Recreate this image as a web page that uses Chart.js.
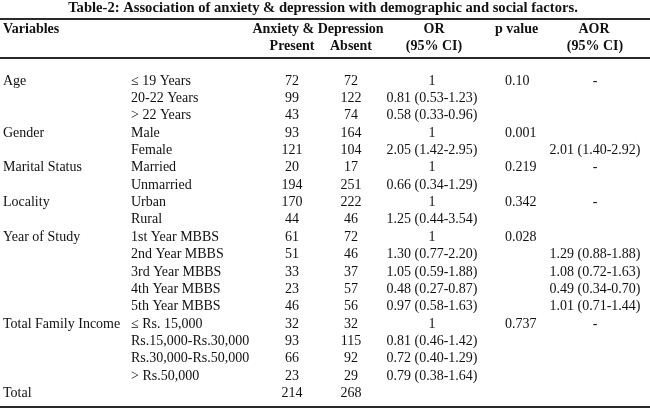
<!DOCTYPE html>
<html>
<head>
<meta charset="utf-8">
<script src="https://cdn.jsdelivr.net/npm/chart.js@4.4.1/dist/chart.umd.min.js"></script>
<style>
  html, body { margin: 0; padding: 0; background: #fff; }
  #wrap { width: 650px; height: 415px; }
</style>
</head>
<body>
<div id="wrap"><canvas id="tableChart"></canvas></div>
<script>
// table values, one array per column
var variables = ["Age", "", "", "Gender", "", "Marital Status", "", "Locality", "", "Year of Study", "", "", "", "", "Total Family Income", "", "", "", "Total"];
var categories = ["≤ 19 Years", "20-22 Years", "> 22 Years", "Male", "Female", "Married", "Unmarried", "Urban", "Rural",
  "1st Year MBBS", "2nd Year MBBS", "3rd Year MBBS", "4th Year MBBS", "5th Year MBBS",
  "≤ Rs. 15,000", "Rs.15,000-Rs.30,000", "Rs.30,000-Rs.50,000", "> Rs.50,000", ""];
var present = [72, 99, 43, 93, 121, 20, 194, 170, 44, 61, 51, 33, 23, 46, 32, 93, 66, 23, 214];
var absent = [72, 122, 74, 164, 104, 17, 251, 222, 46, 72, 46, 37, 57, 56, 32, 115, 92, 29, 268];
var oddsRatio = ["1", "0.81 (0.53-1.23)", "0.58 (0.33-0.96)", "1", "2.05 (1.42-2.95)", "1", "0.66 (0.34-1.29)", "1", "1.25 (0.44-3.54)",
  "1", "1.30 (0.77-2.20)", "1.05 (0.59-1.88)", "0.48 (0.27-0.87)", "0.97 (0.58-1.63)",
  "1", "0.81 (0.46-1.42)", "0.72 (0.40-1.29)", "0.79 (0.38-1.64)", ""];
var pValues = ["0.10", "", "", "0.001", "", "0.219", "", "0.342", "", "0.028", "", "", "", "", "0.737", "", "", "", ""];
var adjOddsRatio = ["-", "", "", "", "2.01 (1.40-2.92)", "-", "", "-", "", "", "1.29 (0.88-1.88)", "1.08 (0.72-1.63)", "0.49 (0.34-0.70)", "1.01 (0.71-1.44)", "-", "", "", "", ""];

var title = "Table-2: Association of anxiety & depression with demographic and social factors.";
var headTop = ["Variables", "Anxiety & Depression", "OR", "p value", "AOR"];
var headBottom = ["Present", "Absent", "(95% CI)", "(95% CI)"];

// layout (x in px, y in row units)
var BODY = "14px 'Liberation Serif', 'Times New Roman', serif";
var BOLD = "bold 14px 'Liberation Serif', 'Times New Roman', serif";
var TITLE = "bold 14.6px 'Liberation Serif', 'Times New Roman', serif";
var columns = [
  { texts: variables, x: 3, align: "left" },
  { texts: categories, x: 131, align: "left" },
  { texts: present, x: 292, align: "center" },
  { texts: absent, x: 351, align: "center" },
  { texts: oddsRatio, x: 432, align: "center" },
  { texts: pValues, x: 505, align: "left" },
  { texts: adjOddsRatio, x: 595, align: "center" }
];
var headTopX = [3, 318, 434, 495, 594];
var headTopAlign = ["left", "center", "center", "left", "center"];
var headBottomX = [292, 351, 434, 595];
var rules = [-3.57, -1.33, 18.79];

var datasets = [];

columns.forEach(function (c) {
  datasets.push({
    type: "scatter",
    data: c.texts.map(function (t, i) { return { x: c.x, y: i }; }),
    texts: c.texts, align: c.align, font: BODY,
    pointRadius: 0
  });
});

headTop.forEach(function (t, i) {
  datasets.push({
    type: "scatter", data: [{ x: headTopX[i], y: -3.0 }],
    texts: [t], align: headTopAlign[i], font: BOLD, pointRadius: 0
  });
});
headBottom.forEach(function (t, i) {
  datasets.push({
    type: "scatter", data: [{ x: headBottomX[i], y: -2.02 }],
    texts: [t], align: "center", font: BOLD, pointRadius: 0
  });
});
datasets.push({
  type: "scatter", data: [{ x: 323, y: -4.2 }],
  texts: [title], align: "center", font: TITLE, maxWidth: 512, pointRadius: 0
});

rules.forEach(function (r) {
  datasets.push({
    type: "line", data: [{ x: 0, y: r }, { x: 650, y: r }],
    borderColor: "#2a2a2a", borderWidth: 2, pointRadius: 0
  });
});

var cellText = {
  id: "cellText",
  afterDatasetsDraw: function (chart) {
    var ctx = chart.ctx;
    chart.data.datasets.forEach(function (ds, di) {
      if (!ds.texts) return;
      var meta = chart.getDatasetMeta(di);
      ctx.save();
      ctx.font = ds.font;
      ctx.fillStyle = "#111";
      ctx.textAlign = ds.align;
      ctx.textBaseline = "middle";
      meta.data.forEach(function (pt, i) {
        var t = ds.texts[i];
        if (t === "" || t === undefined) return;
        if (ds.maxWidth) ctx.fillText(String(t), pt.x, pt.y, ds.maxWidth);
        else ctx.fillText(String(t), pt.x, pt.y);
      });
      ctx.restore();
    });
  }
};

var ctx = document.getElementById("tableChart");
var tableChart = new Chart(ctx, {
  type: "scatter",
  data: { datasets: datasets },
  options: {
    responsive: true,
    maintainAspectRatio: false,
    animation: false,
    layout: { padding: 0 },
    clip: false,
    plugins: { legend: { display: false }, tooltip: { enabled: false } },
    scales: {
      x: { type: "linear", min: 0, max: 650, display: false },
      y: { type: "linear", min: -4.669, max: 19.251, reverse: true, display: false }
    }
  },
  plugins: [cellText]
});
</script>
</body>
</html>
